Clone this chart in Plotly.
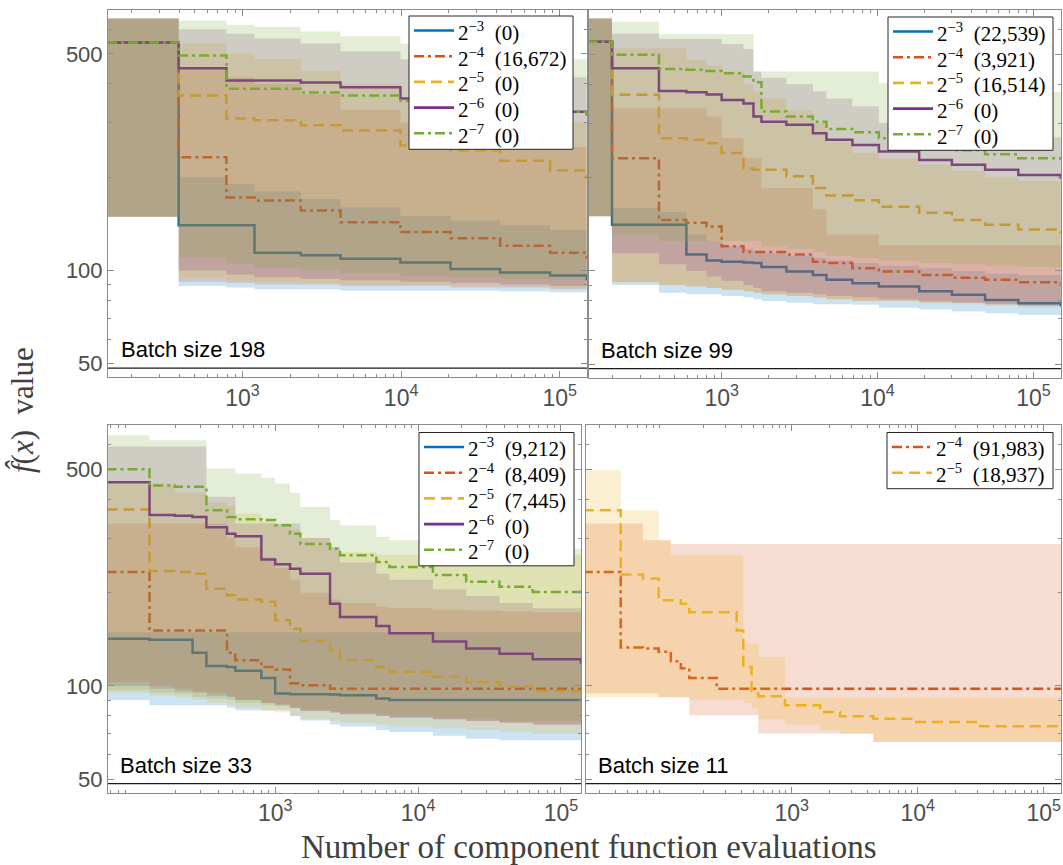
import plotly.graph_objects as go

# ---------------- data ----------------
series_keys = ["m3", "m4", "m5", "m6", "m7"]
series_exp = {"m3": "−3", "m4": "−4", "m5": "−5", "m6": "−6", "m7": "−7"}
optimum_value = 48.4

# Batch size 198 (top-left)
b198_x = [140, 396, 792, 1190, 2330, 4150, 9900, 20500, 42100, 87000, 148000]
b198_m3 = [544, 140, 140, 114, 112, 109, 106, 101, 98.5, 96.3, 93]
b198_m3_lo = [149, 89, 88, 87, 87, 86, 86, 86, 85.5, 85, 85]
b198_m3_hi = [650, 200, 190, 180, 170, 160, 150, 145, 140, 135, 130]
b198_m4 = [544, 232, 172, 168, 156, 143, 133, 127, 120, 114, 109]
b198_m4_lo = [149, 92, 91, 90, 90, 89, 89, 88, 88, 87, 87]
b198_m4_hi = [650, 450, 420, 400, 370, 330, 300, 280, 260, 250, 240]
b198_m5 = [544, 367, 309, 305, 294, 283, 253, 244, 226, 210, 198]
b198_m5_lo = [149, 95, 93, 92, 91, 90, 90, 89, 89, 88, 88]
b198_m5_hi = [650, 540, 500, 480, 440, 400, 360, 340, 320, 300, 290]
b198_m6 = [544, 449, 410, 410, 404, 390, 359, 353, 335, 325, 316]
b198_m6_lo = [149, 100, 97, 95, 94, 93, 92, 91, 90, 89, 88]
b198_m6_hi = [650, 600, 580, 560, 540, 510, 480, 460, 440, 420, 410]
b198_m7 = [544, 494, 386, 386, 375, 367, 353, 345, 335, 325, 316]
b198_m7_lo = [149, 110, 105, 102, 100, 98, 96, 95, 94, 93, 92]
b198_m7_hi = [650, 640, 620, 610, 590, 570, 540, 520, 500, 480, 470]
b198_counts = {"m3": "0", "m4": "16,672", "m5": "0", "m6": "0", "m7": "0"}

# Batch size 99 (top-right)
b99_x = [138, 198, 396, 594, 800, 1000, 1380, 1600, 1800, 2600, 3850, 4700, 6900,
         10200, 18500, 30000, 49000, 80000, 150000]
b99_m3 = [549, 141, 141, 113, 108, 107, 106.5, 106, 103, 99.5, 97, 93.6, 91.2, 89, 86, 83.7, 80.6, 78.7, 76.7]
b99_m3_lo = [150, 90, 85, 84, 84, 83, 82, 81, 80, 79, 78, 78, 77.7, 76, 75, 74, 73, 72, 71]
b99_m3_hi = [653, 160, 155, 131, 125, 120, 118, 116, 114, 112, 110, 108, 106, 104, 102, 100, 98, 97, 96]
b99_m4 = [549, 231, 146, 143, 139, 120, 115, 115, 115, 113, 107, 106, 102, 99.5, 97, 95, 93.6, 92, 90.6]
b99_m4_lo = [150, 92, 90, 89, 88, 87, 86, 85, 84, 83, 82, 81, 80, 80, 79, 79, 78, 78, 78]
b99_m4_hi = [653, 335, 335, 335, 315, 268, 231, 231, 185, 185, 158, 131, 131, 121, 121, 121, 121, 121, 121]
b99_m5 = [549, 370, 268, 265, 258, 240, 214, 212, 212, 202, 185, 175, 169, 161, 154, 146, 141, 136, 132]
b99_m5_lo = [150, 92, 90, 89, 88, 87, 86, 85, 84, 83, 82, 81, 80, 80, 79, 78, 77, 76, 75]
b99_m5_hi = [653, 523, 523, 480, 460, 440, 400, 380, 360, 330, 300, 260, 240, 230, 220, 210, 200, 195, 190]
b99_m6 = [549, 451, 381, 377, 371, 356, 347, 315, 303, 296, 278, 265, 255, 243, 228, 220, 212, 204, 198]
b99_m6_lo = [150, 114, 105, 100, 96, 93, 90, 88, 86, 85, 84, 83, 82, 81, 80, 79, 78, 77, 77]
b99_m6_hi = [653, 584, 560, 560, 560, 540, 520, 440, 420, 400, 380, 360, 340, 300, 290, 280, 275, 270, 265]
b99_m7 = [549, 498, 448, 446, 442, 434, 424, 406, 327, 315, 303, 287, 280, 268, 255, 245, 238, 231, 228]
b99_m7_lo = [150, 131, 125, 125, 125, 125, 125, 125, 120, 118, 115, 112, 110, 108, 106, 105, 104, 103, 102]
b99_m7_hi = [653, 637, 580, 580, 580, 580, 580, 440, 440, 440, 440, 440, 440, 403, 398, 392, 385, 378, 370]
b99_counts = {"m3": "22,539", "m4": "3,921", "m5": "16,514", "m6": "0", "m7": "0"}

# Batch size 33 (bottom-left)
b33_x = [66, 132, 198, 264, 330, 460, 526, 800, 1000, 1270, 1500, 2420, 2840, 5100,
         6300, 12700, 21700, 37100, 63400, 138000]
b33_m3 = [142, 141, 141, 128, 116, 115, 112, 106, 94.5, 94, 94, 93.8, 93.3, 91, 90, 90, 90, 90, 90, 90]
b33_m3_lo = [90, 86.6, 86.6, 86.6, 86.6, 85, 83.4, 83.4, 83.4, 80, 77.4, 75, 74, 72, 71, 69, 67.5, 66.8, 66.8, 66.8]
b33_m3_hi = [149, 149, 149, 149, 149, 149, 149, 149, 149, 149, 149, 149, 149, 149, 149, 149, 149, 149, 149, 149]
b33_m4 = [233, 151, 151, 151, 151, 128, 121, 115, 113, 102, 100.5, 98, 98, 98, 98, 98, 98, 98, 98, 98]
b33_m4_lo = [103, 100, 98, 96, 95, 93, 90, 88, 87, 85, 83, 82, 81, 80, 79, 78, 77, 76, 75, 74]
b33_m4_hi = [334, 334, 334, 334, 334, 300, 280, 260, 240, 220, 200, 190, 185, 180, 178, 176, 175, 174, 173, 173]
b33_m5 = [371, 235, 233, 230, 206, 196, 190, 187, 163, 153, 140, 130, 121, 115, 111, 107, 103, 99.3, 96.3, 94]
b33_m5_lo = [95, 93, 92, 90, 88, 87, 85, 83, 82, 80, 78, 77, 76, 75, 74, 73, 72, 71, 70, 70]
b33_m5_hi = [450, 450, 420, 420, 390, 380, 360, 340, 330, 320, 300, 280, 270, 265, 265, 265, 265, 265, 265, 265]
b33_m6 = [454, 356, 354, 351, 325, 310, 304, 256, 247, 239, 230, 184, 167, 156, 148, 139, 132, 127, 122, 118]
b33_m6_lo = [100, 98, 96, 95, 93, 92, 90, 88, 87, 85, 83, 82, 81, 80, 79, 78, 77, 76, 75, 74.6]
b33_m6_hi = [592, 592, 592, 592, 408, 408, 334, 334, 334, 334, 300, 280, 250, 230, 220, 205, 195, 185, 178, 173]
b33_m7 = [500, 443, 439, 439, 369, 351, 345, 343, 330, 310, 287, 277, 264, 251, 242, 228, 217, 209, 201, 194]
b33_m7_lo = [97, 95, 94, 92, 91, 90, 88, 87, 86, 85, 84, 83, 82, 81, 80, 79, 78, 77, 77, 77]
b33_m7_hi = [644, 621, 621, 621, 503, 503, 485, 470, 450, 420, 378, 343, 330, 303, 295, 285, 280, 277, 277, 277]
b33_counts = {"m3": "9,212", "m4": "8,409", "m5": "7,445", "m6": "0", "m7": "0"}

# Batch size 11 (bottom-right)
b11_x = [22, 44, 66, 88, 110, 132, 154, 254, 366, 413, 481, 544, 885, 1680, 2420,
         4450, 9250, 31300, 137000]
b11_m4 = [233, 133, 132, 129, 120, 114, 106, 98, 98, 98, 98, 98, 98, 98, 98, 98, 98, 98, 98]
b11_m4_lo = [94.5, 94.5, 94.5, 92, 92, 92, 80.4, 80.4, 80.4, 80.4, 80.4, 70.2, 70.2, 70.2, 70.2, 65.9, 65.9, 65.9, 65.9]
b11_m4_hi = [334, 334, 295, 295, 287, 287, 287, 287, 287, 287, 287, 287, 287, 287, 287, 287, 287, 287, 287]
b11_m5 = [369, 229, 222, 189, 189, 184, 173, 173, 151, 115, 94.5, 92.6, 86.6, 82.4, 79.8, 78.4, 76.5, 74.1, 72.3]
b11_m5_lo = [92, 92, 92, 92, 92, 92, 90, 90, 90, 88, 85, 78, 75, 72, 70, 66, 66, 66, 66]
b11_m5_hi = [497, 369, 369, 295, 264, 264, 264, 264, 264, 137, 137, 124, 92, 92, 92, 92, 92, 92, 92]
b11_counts = {"m4": "91,983", "m5": "18,937"}

# ---------------- styling ----------------
W, H = 1063, 865
COLORS = {"m3": (0, 114, 189), "m4": (217, 83, 25), "m5": (237, 177, 32),
          "m6": (126, 47, 142), "m7": (119, 172, 48)}
DASHES = {"m3": "solid", "m4": "10px,4px,3px,4px", "m5": "11px,6px",
          "m6": "solid", "m7": "10px,4px,3px,4px"}

panels = [
    dict(ax="", box=(409, 16, 573), label="Batch size 198", x=b198_x, counts=b198_counts,
         data={"m3": (b198_m3, b198_m3_lo, b198_m3_hi), "m4": (b198_m4, b198_m4_lo, b198_m4_hi),
               "m5": (b198_m5, b198_m5_lo, b198_m5_hi), "m6": (b198_m6, b198_m6_lo, b198_m6_hi),
               "m7": (b198_m7, b198_m7_lo, b198_m7_hi)}),
    dict(ax="2", box=(888, 17, 1053), label="Batch size 99", x=b99_x, counts=b99_counts,
         data={"m3": (b99_m3, b99_m3_lo, b99_m3_hi), "m4": (b99_m4, b99_m4_lo, b99_m4_hi),
               "m5": (b99_m5, b99_m5_lo, b99_m5_hi), "m6": (b99_m6, b99_m6_lo, b99_m6_hi),
               "m7": (b99_m7, b99_m7_lo, b99_m7_hi)}),
    dict(ax="3", box=(419, 432.5, 574), label="Batch size 33", x=b33_x, counts=b33_counts,
         data={"m3": (b33_m3, b33_m3_lo, b33_m3_hi), "m4": (b33_m4, b33_m4_lo, b33_m4_hi),
               "m5": (b33_m5, b33_m5_lo, b33_m5_hi), "m6": (b33_m6, b33_m6_lo, b33_m6_hi),
               "m7": (b33_m7, b33_m7_lo, b33_m7_hi)}),
    dict(ax="4", box=(887, 432.5, 1053), label="Batch size 11", x=b11_x, counts=b11_counts,
         data={"m4": (b11_m4, b11_m4_lo, b11_m4_hi), "m5": (b11_m5, b11_m5_lo, b11_m5_hi)}),
]

fig = go.Figure()
shapes, annos = [], []
px = lambda v: v / W
py = lambda v: 1 - v / H
for p in panels:
    xa, ya = "x" + p["ax"], "y" + p["ax"]
    xs = p["x"]
    keys = [k for k in series_keys if k in p["data"]]
    for k in keys:
        med, lo, hi = p["data"][k]
        r, g, b = COLORS[k]
        fig.add_trace(go.Scatter(x=xs, y=lo, xaxis=xa, yaxis=ya, mode="lines",
                                 line=dict(width=0, shape="hv"), hoverinfo="skip",
                                 showlegend=False))
        fig.add_trace(go.Scatter(x=xs, y=hi, xaxis=xa, yaxis=ya, mode="lines",
                                 line=dict(width=0, shape="hv"), fill="tonexty",
                                 fillcolor=f"rgba({r},{g},{b},0.2)", hoverinfo="skip",
                                 showlegend=False))
        fig.add_trace(go.Scatter(x=xs, y=med, xaxis=xa, yaxis=ya, mode="lines",
                                 line=dict(color=f"rgb({r},{g},{b})", width=2.5,
                                           dash=DASHES[k], shape="hv"),
                                 name=f"2^{series_exp[k]} ({p['counts'][k]})", showlegend=False))
    fig.add_trace(go.Scatter(x=[10, 1e6], y=[optimum_value, optimum_value], xaxis=xa, yaxis=ya,
                             mode="lines", line=dict(color="#1a1a1a", width=1.3),
                             showlegend=False, hoverinfo="skip"))
    annos.append(dict(text=p["label"], xref=xa + " domain", yref=ya + " domain",
                      x=0.022, y=0.035, xanchor="left", yanchor="bottom", showarrow=False,
                      font=dict(family="Liberation Sans", size=22, color="black")))
    # legend box drawn by hand so that its spacing matches the reference
    left, top, right = p["box"]
    step = 25.7
    first = top + 14.5
    bottom = first + step * (len(keys) - 1) + 16
    shapes.append(dict(type="rect", xref="paper", yref="paper", x0=px(left), x1=px(right),
                       y0=py(bottom), y1=py(top), fillcolor="white",
                       line=dict(color="#262626", width=1), layer="above"))
    for i, k in enumerate(keys):
        yc = first + step * i
        r, g, b = COLORS[k]
        shapes.append(dict(type="line", xref="paper", yref="paper", x0=px(left + 5),
                           x1=px(left + 45), y0=py(yc), y1=py(yc), layer="above",
                           line=dict(color=f"rgb({r},{g},{b})", width=2.6, dash=DASHES[k])))
        annos.append(dict(text=f"2<sup>{series_exp[k]}</sup>\u00a0 ({p['counts'][k]})",
                          xref="paper", yref="paper", x=px(left + 47), y=py(yc + 1),
                          xanchor="left", yanchor="middle", showarrow=False,
                          font=dict(family="Liberation Serif", size=21, color="black")))

frame = "#8c8c8c"
minor_x = [k * 10 ** d for d in range(1, 6) for k in range(2, 10)]

def xaxis(dom, rng):
    return dict(type="log", domain=[dom[0] / W, dom[1] / W], range=rng, showline=True,
                linecolor=frame, linewidth=1, mirror="allticks", ticks="inside", ticklen=6,
                tickcolor=frame, showgrid=False, zeroline=False,
                tickvals=[1e3, 1e4, 1e5], ticktext=["10<sup>3</sup>", "10<sup>4</sup>", "10<sup>5</sup>"],
                tickfont=dict(family="Liberation Sans", size=23, color="#4d4d4d"),
                minor=dict(tickvals=minor_x, ticks="inside", ticklen=3, tickcolor=frame, showgrid=False))

def yaxis(dom, labels):
    return dict(type="log", domain=[1 - dom[1] / H, 1 - dom[0] / H], range=[1.656, 2.842],
                showline=True, linecolor=frame, linewidth=1, mirror="allticks", ticks="inside",
                ticklen=6, tickcolor=frame, showgrid=False, zeroline=False,
                tickvals=[50, 100, 500], ticktext=["50", "100", "500"], showticklabels=labels,
                tickfont=dict(family="Liberation Sans", size=22, color="#4d4d4d"),
                minor=dict(tickvals=[60, 70, 80, 90, 200, 300, 400, 600], ticks="inside",
                           ticklen=3, tickcolor=frame, showgrid=False))

annos.append(dict(text="Number of component function evaluations", xref="paper", yref="paper",
                  x=589 / W, y=1 - 847 / H, xanchor="center", yanchor="middle", showarrow=False,
                  font=dict(family="Liberation Serif", size=33, color="#404040")))
annos.append(dict(text="<i>f\u0302</i>(<i>x</i>)\u00a0 value", xref="paper", yref="paper",
                  x=22 / W, y=1 - 410 / H, xanchor="center", yanchor="middle", showarrow=False,
                  textangle=-90, font=dict(family="Liberation Serif", size=31, color="#404040")))

fig.update_layout(
    width=W, height=H, margin=dict(l=0, r=0, t=0, b=0),
    plot_bgcolor="white", paper_bgcolor="white", showlegend=False,
    xaxis=xaxis((108, 587), [2.152, 5.172]), yaxis=yaxis((9.5, 377), True),
    xaxis2=xaxis((589, 1061), [2.149, 5.177]), yaxis2=yaxis((10, 377.5), False),
    xaxis3=xaxis((108, 581), [1.83, 5.14]), yaxis3=yaxis((425, 792.5), True),
    xaxis4=xaxis((586, 1061), [1.368, 5.137]), yaxis4=yaxis((425, 792.5), False),
    shapes=shapes, annotations=annos,
)
for i in ["", "2", "3", "4"]:
    fig.layout["yaxis" + i].anchor = "x" + i
    fig.layout["xaxis" + i].anchor = "y" + i

fig.write_html("out.html")
